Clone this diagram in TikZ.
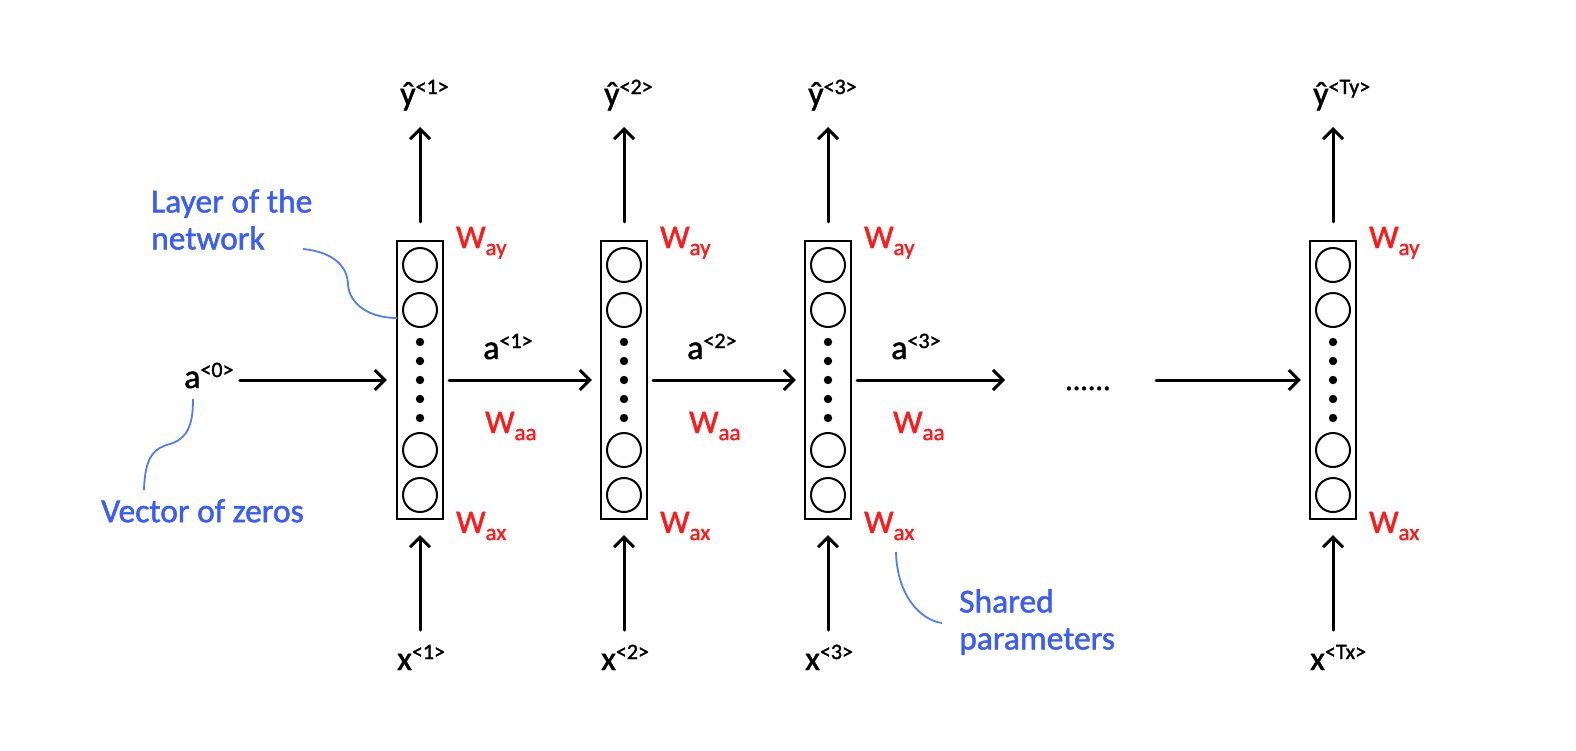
\documentclass[tikz,border=0pt]{standalone}
\usepackage{fontspec}
\setmainfont{Carlito}[FakeBold=1.4]
\usetikzlibrary{arrows.meta}
\definecolor{nblue}{RGB}{58,92,250}
\definecolor{lblue}{RGB}{80,125,250}
\definecolor{wred}{RGB}{255,25,25}
\newcommand{\supl}[2]{#1\raisebox{11pt}{\fontsize{22}{22}\selectfont #2}}
\newcommand{\wsub}[1]{W\raisebox{-7pt}{\fontsize{23}{23}\selectfont #1}}
\begin{document}
\begin{tikzpicture}[x=1pt,y=-1pt,
  cellbox/.style={draw, line width=2.2pt, minimum width=46pt, minimum height=278pt, inner sep=0pt},
  neuron/.style={draw, line width=2pt, circle, minimum size=34pt, inner sep=0pt},
  arr/.style={line width=3pt, line cap=round, -{Straight Barb[length=10pt,width=20pt]}},
  lab/.style={font=\fontsize{34}{34}\selectfont, anchor=base west, inner sep=0pt},
  wlab/.style={text=wred, font=\fontsize{33}{33}\selectfont, anchor=base west, inner sep=0pt},
  note/.style={text=nblue, font=\fontsize{33.5}{37}\selectfont, align=left, anchor=north west, inner sep=0pt},
  lead/.style={lblue, line width=1.8pt}]
\useasboundingbox[fill=white] (0,0) rectangle (1576,750);

\foreach \i/\cx/\ty/\tx in {1/420/1/1,2/624/2/2,3/828/3/3,4/1333/Ty/Tx}{
  \node[cellbox] (c\i) at (\cx,380) {};
  \foreach \dy [count=\k] in {-115,-70,70,115}
    \node[neuron] (n\i\k) at (\cx,{380+\dy}) {};
  \foreach \dy in {-38,-19,0,19,38}
    \fill (\cx,{380+\dy}) circle (4.2pt);
  \node[lab] (yh\i) at ({\cx-20},105) {\supl{ŷ}{<\ty>}};
  \node[lab] (x\i) at ({\cx-23},670) {\supl{x}{<\tx>}};
  \node[wlab] (way\i) at ({\cx+36},248) {\wsub{ay}};
  \node[wlab] (wax\i) at ({\cx+36},533) {\wsub{ax}};
  \coordinate (u\i) at (\cx,127);
  \coordinate (d\i) at (\cx,630);
  \draw[arr, shorten <=18pt] (c\i.north) -- (u\i);
  \draw[arr, shorten >=15pt] (d\i) -- (c\i.south);
}
\foreach \i/\cx in {1/420,2/624,3/828}
  \node[wlab] (waa\i) at ({\cx+65},433) {\wsub{aa}};

\node[lab] (a0) at (184,388) {\supl{a}{<0>}};
\node[lab] (a1) at (483,359) {\supl{a}{<1>}};
\node[lab] (a2) at (687,359) {\supl{a}{<2>}};
\node[lab] (a3) at (891,359) {\supl{a}{<3>}};

\draw[arr, shorten <=6pt, shorten >=9pt] (a0.east |- c1.west) -- (c1.west);
\draw[arr, shorten <=5pt, shorten >=8pt] (c1.east) -- (c2.west);
\draw[arr, shorten <=5pt, shorten >=8pt] (c2.east) -- (c3.west);
\coordinate (e3) at (1005,380);
\draw[arr, shorten <=5pt] (c3.east) -- (e3);
\node[lab, font=\fontsize{30}{30}\selectfont] (dots) at (1065,390) {......};
\coordinate (s4) at (1156,380);
\draw[arr, shorten >=8pt] (s4) -- (c4.west);

\node[note] (layer) at (151,189) {Layer of the\\network};
\coordinate (l0) at (303,249);
\coordinate (l1) at (397,318);
\draw[lead] (l0) .. controls (335,252) and (348,268) .. (348,285)
  .. controls (350,305) and (370,318) .. (l1);

\node[note] (vz) at (101,499) {Vector of zeros};
\coordinate (v0) at (144,490);
\coordinate (v1) at (193,399);
\draw[lead] (v0) .. controls (145,455) and (155,448) .. (170,444)
  .. controls (190,438) and (193,420) .. (v1);

\node[note] (sp) at (959,589) {Shared\\parameters};
\coordinate (s0) at (896,552);
\coordinate (s1) at (942,623);
\draw[lead] (s0) .. controls (897,595) and (920,620) .. (s1);
\end{tikzpicture}
\end{document}
